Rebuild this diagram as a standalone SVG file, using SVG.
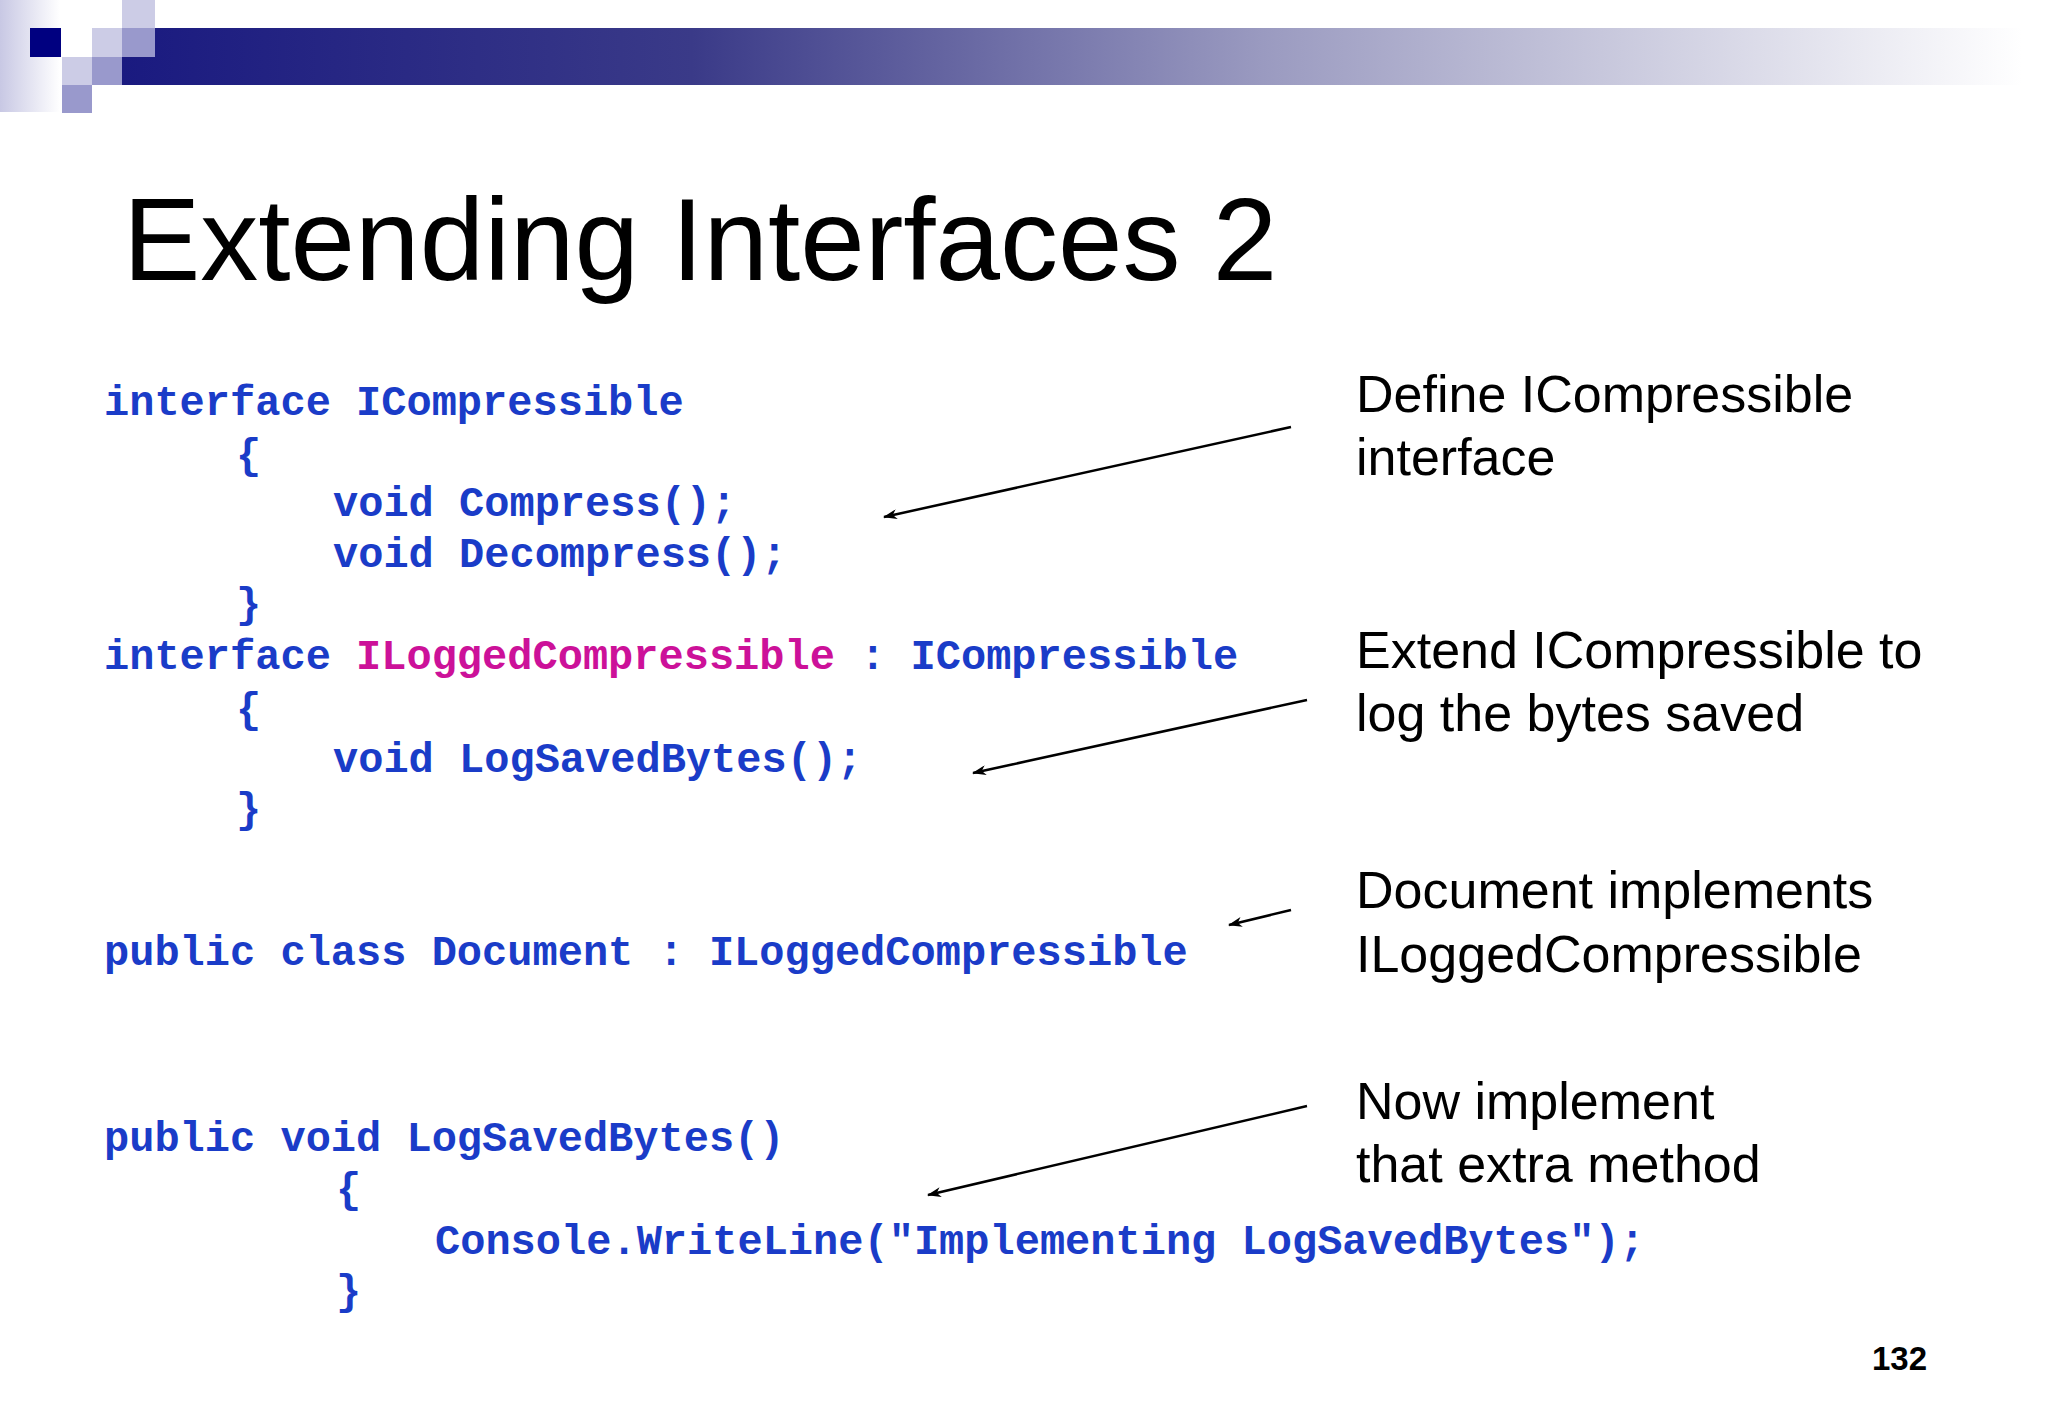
<svg xmlns="http://www.w3.org/2000/svg" width="2048" height="1418" viewBox="0 0 2048 1418">
<defs>
<linearGradient id="bar" x1="0" x2="1" y1="0" y2="0">
<stop offset="0" stop-color="#1a1a80"/><stop offset="0.3" stop-color="#3a3a88"/><stop offset="0.6" stop-color="#9a9ac0"/><stop offset="1" stop-color="#ffffff"/>
</linearGradient>
<linearGradient id="left" x1="0" x2="1" y1="0" y2="0">
<stop offset="0" stop-color="#c8c8e4"/><stop offset="1" stop-color="#ffffff"/>
</linearGradient>
<marker id="ah" markerWidth="14" markerHeight="10" refX="13" refY="5" orient="auto" markerUnits="userSpaceOnUse"><path d="M0,0 L14,5 L0,10 L4,5 Z" fill="#000"/></marker>
<style>
.code{font-family:"Liberation Mono","Courier New",monospace;font-weight:bold;font-size:42px;fill:#1a3cc8}
.mag{fill:#cc1199}
.note{font-family:"Liberation Sans",Arial,sans-serif;font-size:52px;fill:#000}
.arr{stroke:#000;stroke-width:2.5;fill:none;marker-end:url(#ah)}
</style>
</defs>
<rect width="2048" height="1418" fill="#fff"/>
<g id="logo">
<rect x="0" y="0" width="60" height="112" fill="url(#left)"/>
<rect x="122" y="28" width="1900" height="57" fill="url(#bar)"/>
<rect x="30" y="28" width="31" height="29" fill="#000080"/>
<rect x="92" y="28" width="30" height="29" fill="#ccccE6"/>
<rect x="122" y="28" width="33" height="29" fill="#9999cc"/>
<rect x="122" y="0" width="33" height="28" fill="#ccccE6"/>
<rect x="62" y="57" width="30" height="28" fill="#ccccE6"/>
<rect x="92" y="57" width="30" height="28" fill="#9999cc"/>
<rect x="62" y="85" width="30" height="28" fill="#9999cc"/>
</g>
<text id="title" x="123" y="280" font-family="Liberation Sans,Arial,sans-serif" font-size="116" fill="#000">Extending Interfaces 2</text>
<g id="code" xml:space="preserve">
<text class="code" x="104" y="415">interface ICompressible</text>
<text class="code" x="236" y="468">{</text>
<text class="code" x="333" y="516">void Compress();</text>
<text class="code" x="333" y="567">void Decompress();</text>
<text class="code" x="236" y="617">}</text>
<text class="code" x="104" y="669">interface <tspan class="mag">ILoggedCompressible</tspan> : ICompressible</text>
<text class="code" x="236" y="722">{</text>
<text class="code" x="333" y="772">void LogSavedBytes();</text>
<text class="code" x="236" y="822">}</text>
<text class="code" x="104" y="965">public class Document : ILoggedCompressible</text>
<text class="code" x="104" y="1151">public void LogSavedBytes()</text>
<text class="code" x="336" y="1202">{</text>
<text class="code" x="435" y="1254">Console.WriteLine("Implementing LogSavedBytes");</text>
<text class="code" x="336" y="1304">}</text>
</g>
<g id="notes">
<text class="note" x="1356" y="412">Define ICompressible</text>
<text class="note" x="1356" y="475">interface</text>
<text class="note" x="1356" y="668">Extend ICompressible to</text>
<text class="note" x="1356" y="731">log the bytes saved</text>
<text class="note" x="1356" y="908">Document implements</text>
<text class="note" x="1356" y="972">ILoggedCompressible</text>
<text class="note" x="1356" y="1119">Now implement</text>
<text class="note" x="1356" y="1182">that extra method</text>
</g>
<g id="connectors">
<line class="arr" x1="1291" y1="427" x2="884" y2="517"/>
<line class="arr" x1="1307" y1="700" x2="973" y2="773"/>
<line class="arr" x1="1291" y1="910" x2="1229" y2="925"/>
<line class="arr" x1="1307" y1="1106" x2="928" y2="1195"/>
</g>
<text id="page" x="1927" y="1370" text-anchor="end" font-family="Liberation Sans,Arial,sans-serif" font-weight="bold" font-size="33" fill="#000">132</text>
</svg>
